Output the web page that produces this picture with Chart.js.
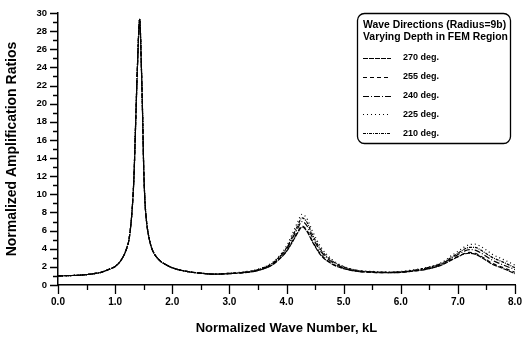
<!DOCTYPE html>
<html>
<head>
<meta charset="utf-8">
<script src="https://cdn.jsdelivr.net/npm/chart.js@4"></script>
<style>
  html, body { margin: 0; padding: 0; background: #fff; }
  #wrap { width: 524px; height: 338px; }
</style>
</head>
<body>
<div id="wrap"><canvas id="chart" width="524" height="338"></canvas></div>
<script>
// normalized wave number kL
const kL = [0, 0.25, 0.5, 0.75, 0.9, 1.0, 1.1, 1.2, 1.25, 1.3, 1.33, 1.36, 1.39, 1.43, 1.46, 1.48, 1.5, 1.52, 1.55, 1.6,
  1.65, 1.7, 1.8, 1.9, 2.0, 2.25, 2.5, 2.75, 3.0, 3.25, 3.5, 3.75, 3.9, 4.0, 4.1, 4.2, 4.27, 4.35, 4.45, 4.6,
  4.8, 5.0, 5.25, 5.5, 5.75, 6.0, 6.25, 6.5, 6.75, 6.9, 7.0, 7.1, 7.2, 7.3, 7.4, 7.5, 7.6, 7.8, 8.0];

const deg270 = [1.0, 1.05, 1.15, 1.4, 1.75, 2.05, 2.7, 4.0, 5.3, 8.5, 12, 18, 24, 29.3, 24, 19, 13, 9.5, 7, 5,
  3.9, 3.3, 2.6, 2.2, 1.9, 1.5, 1.3, 1.2, 1.25, 1.35, 1.6, 2.2, 3.0, 3.7, 4.7, 5.8, 6.4, 6.0, 4.8, 3.3,
  2.3, 1.8, 1.5, 1.4, 1.35, 1.4, 1.55, 1.8, 2.3, 2.8, 3.1, 3.4, 3.5, 3.4, 3.1, 2.7, 2.3, 1.8, 1.25];
const deg255 = [1.0, 1.05, 1.15, 1.4, 1.75, 2.05, 2.7, 4.0, 5.3, 8.5, 12, 18, 24, 29.3, 24, 19, 13, 9.5, 7, 5,
  3.9, 3.3, 2.6, 2.2, 1.9, 1.5, 1.3, 1.2, 1.25, 1.35, 1.6, 2.25, 3.05, 3.75, 4.8, 5.9, 6.5, 6.1, 4.9, 3.4,
  2.35, 1.85, 1.5, 1.4, 1.35, 1.4, 1.55, 1.8, 2.35, 2.85, 3.15, 3.45, 3.6, 3.5, 3.2, 2.8, 2.4, 1.9, 1.4];
const deg240 = [1.0, 1.05, 1.15, 1.4, 1.75, 2.05, 2.7, 4.0, 5.3, 8.5, 12, 18, 24, 29.3, 24, 19, 13, 9.5, 7, 5,
  3.9, 3.3, 2.6, 2.2, 1.9, 1.5, 1.3, 1.2, 1.25, 1.4, 1.65, 2.3, 3.2, 3.95, 5.1, 6.3, 7.0, 6.6, 5.3, 3.7,
  2.5, 1.9, 1.55, 1.45, 1.4, 1.45, 1.6, 1.9, 2.45, 3.0, 3.35, 3.7, 3.9, 3.85, 3.55, 3.15, 2.75, 2.2, 1.7];
const deg225 = [1.0, 1.05, 1.15, 1.4, 1.75, 2.05, 2.7, 4.0, 5.3, 8.5, 12, 18, 24, 29.3, 24, 19, 13, 9.5, 7, 5,
  3.9, 3.3, 2.6, 2.2, 1.9, 1.5, 1.3, 1.2, 1.3, 1.45, 1.75, 2.45, 3.4, 4.3, 5.6, 7.0, 7.8, 7.4, 6.0, 4.2,
  2.8, 2.05, 1.6, 1.5, 1.45, 1.5, 1.7, 2.0, 2.6, 3.3, 3.7, 4.15, 4.45, 4.5, 4.25, 3.85, 3.4, 2.8, 2.2];
const deg210 = [1.0, 1.05, 1.15, 1.4, 1.75, 2.05, 2.7, 4.0, 5.3, 8.5, 12, 18, 24, 29.3, 24, 19, 13, 9.5, 7, 5,
  3.9, 3.3, 2.6, 2.2, 1.9, 1.5, 1.3, 1.2, 1.3, 1.4, 1.7, 2.4, 3.3, 4.1, 5.3, 6.6, 7.4, 7.0, 5.6, 3.9,
  2.65, 2.0, 1.6, 1.45, 1.4, 1.45, 1.65, 1.95, 2.5, 3.1, 3.5, 3.9, 4.15, 4.15, 3.85, 3.45, 3.05, 2.5, 1.9];

const seriesNames = ["270 deg.", "255 deg.", "240 deg.", "225 deg.", "210 deg."];
const seriesData = [deg270, deg255, deg240, deg225, deg210];
const dashes = [[5, 1], [4, 3], [6, 2, 1, 2], [1, 3], [3, 1, 1, 1]];
const legendTitle = ["Wave Directions (Radius=9b)", "Varying Depth in FEM Region"];

const FONT = "'Liberation Sans', Arial, sans-serif";

function toPoints(ys) {
  return ys.map((y, i) => ({ x: kL[i], y: y }));
}

// outward ticks, long on labelled values, short in between
const tickMarks = {
  id: "tickMarks",
  afterDraw(chart) {
    const ctx = chart.ctx;
    const xs = chart.scales.x;
    const ys = chart.scales.y;
    ctx.save();
    ctx.strokeStyle = "#000";
    ctx.lineWidth = 1.3;
    ctx.beginPath();
    for (let v = 0; v <= 30; v++) {
      let p = Math.round(ys.getPixelForValue(v)) + 0.5;
      let len = v % 2 === 0 ? 8 : 5;
      ctx.moveTo(ys.right, p);
      ctx.lineTo(ys.right - len, p);
    }
    for (let v = 0; v <= 8; v += 0.5) {
      let p = Math.round(xs.getPixelForValue(v)) + 0.5;
      let len = Number.isInteger(v) ? 9 : 5;
      ctx.moveTo(p, xs.top);
      ctx.lineTo(p, xs.top + len);
    }
    ctx.stroke();
    ctx.restore();
  },
};

// boxed legend in the top right corner
const boxLegend = {
  id: "boxLegend",
  afterDraw(chart) {
    const ctx = chart.ctx;
    const x0 = 357, y0 = 13, w = 153, h = 130;
    ctx.save();
    ctx.strokeStyle = "#000";
    ctx.lineWidth = 1.3;
    ctx.beginPath();
    ctx.roundRect(x0 + 0.5, y0 + 0.5, w, h, 7);
    ctx.stroke();

    ctx.fillStyle = "#000";
    ctx.font = "bold 10.4px " + FONT;
    ctx.textBaseline = "middle";
    ctx.fillText(legendTitle[0], x0 + 6, y0 + 12);
    ctx.fillText(legendTitle[1], x0 + 6, y0 + 24);

    ctx.font = "bold 9px " + FONT;
    chart.data.datasets.forEach((ds, i) => {
      let y = y0 + 45 + i * 18.8;
      ctx.setLineDash(ds.borderDash);
      ctx.lineWidth = 1;
      ctx.beginPath();
      ctx.moveTo(x0 + 6, Math.round(y) + 0.5);
      ctx.lineTo(x0 + 34, Math.round(y) + 0.5);
      ctx.stroke();
      ctx.setLineDash([]);
      ctx.fillText(ds.label, x0 + 46, y);
    });
    ctx.restore();
  },
};

new Chart(document.getElementById("chart"), {
  type: "line",
  data: {
    datasets: seriesData.map((ys, i) => ({
      label: seriesNames[i],
      data: toPoints(ys),
      borderColor: "#000",
      borderWidth: 1.2,
      borderDash: dashes[i],
      pointRadius: 0,
      fill: false,
      cubicInterpolationMode: "monotone",
    })),
  },
  options: {
    responsive: false,
    animation: false,
    layout: { padding: { top: 13, right: 9, left: 0, bottom: 0 } },
    plugins: {
      legend: { display: false },
      tooltip: { enabled: false },
    },
    scales: {
      x: {
        type: "linear",
        min: 0,
        max: 8,
        afterFit(scale) { scale.height = 53; },
        ticks: {
          stepSize: 0.5,
          autoSkip: false,
          maxRotation: 0,
          padding: 2,
          color: "#000",
          font: { family: FONT, size: 10, weight: "bold" },
          callback: (v) => (Number.isInteger(v) ? v.toFixed(1) : ""),
        },
        grid: { display: true, drawOnChartArea: false, drawTicks: true, tickLength: 9, color: "rgba(0,0,0,0)" },
        border: { display: true, color: "#000", width: 1.5 },
        title: {
          display: true,
          text: "Normalized Wave Number, kL",
          color: "#000",
          font: { family: FONT, size: 13, weight: "bold" },
          padding: { top: 0, bottom: 2 },
        },
      },
      y: {
        min: 0,
        max: 30,
        afterFit(scale) { scale.width = 58; },
        ticks: {
          stepSize: 1,
          autoSkip: false,
          padding: 3,
          color: "#000",
          font: { family: FONT, size: 9.5, weight: "bold" },
          callback: (v) => (v % 2 === 0 ? v : ""),
        },
        grid: { display: true, drawOnChartArea: false, drawTicks: true, tickLength: 8, color: "rgba(0,0,0,0)" },
        border: { display: true, color: "#000", width: 1.5 },
        title: {
          display: true,
          text: "Normalized Amplification Ratios",
          color: "#000",
          font: { family: FONT, size: 14, weight: "bold" },
          padding: { top: 4, bottom: 0 },
        },
      },
    },
  },
  plugins: [tickMarks, boxLegend],
});
</script>
</body>
</html>
